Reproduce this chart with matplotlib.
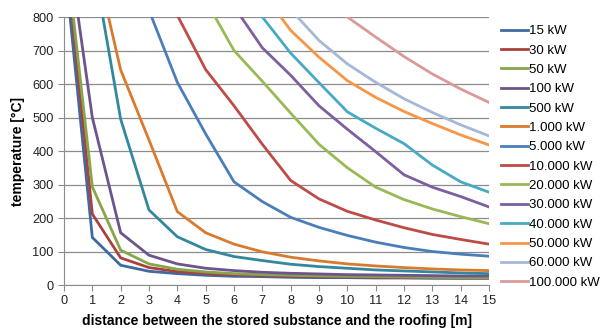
import matplotlib.pyplot as plt
import numpy as np

plt.rcParams['font.family'] = ['Liberation Sans', 'DejaVu Sans']

distance = list(range(0, 16))

# temperature [°C] per heat release rate (values above 800 are off-scale guesses)
labels = ['15 kW', '30 kW', '50 kW', '100 kW', '500 kW', '1.000 kW', '5.000 kW',
          '10.000 kW', '20.000 kW', '30.000 kW', '40.000 kW', '50.000 kW',
          '60.000 kW', '100.000 kW']

t_15 = [980, 142, 59, 41, 34, 29, 26, 25, 23, 22, 22, 21, 21, 20, 20, 20]
t_30 = [1040, 212, 81, 52, 40, 34, 30, 28, 26, 25, 24, 23, 22, 22, 21, 21]
t_50 = [1050, 293, 104, 63, 47, 39, 34, 31, 29, 27, 26, 25, 24, 23, 22, 22]
t_100 = [1100, 500, 156, 89, 63, 50, 43, 38, 35, 33, 31, 30, 29, 28, 27, 27]
t_500 = [2400, 980, 495, 224, 144, 106, 85, 73, 62, 55, 50, 45, 42, 39, 36, 34]
t_1000 = [3000, 1010, 642, 433, 219, 156, 122, 99, 83, 72, 63, 57, 52, 48, 45, 43]
t_5000 = [4000, 2000, 1100, 820, 605, 451, 308, 249, 202, 172, 148, 128, 112, 100, 92, 86]
t_10000 = [5000, 3000, 1500, 1000, 805, 643, 535, 420, 312, 257, 220, 194, 171, 151, 136, 122]
t_20000 = [6000, 4000, 2500, 1500, 1050, 850, 700, 608, 513, 420, 350, 292, 255, 227, 204, 183]
t_30000 = [7000, 5000, 3000, 2000, 1300, 1000, 831, 708, 626, 535, 465, 398, 329, 292, 264, 233]
t_40000 = [8000, 6000, 3500, 2200, 1500, 1100, 900, 800, 692, 604, 517, 468, 422, 358, 308, 277]
t_50000 = [9000, 6500, 4000, 2500, 1700, 1200, 1000, 874, 760, 680, 610, 560, 518, 482, 448, 418]
t_60000 = [9500, 7000, 4500, 2800, 1900, 1300, 1050, 920, 822, 730, 660, 605, 556, 515, 478, 445]
t_100000 = [10000, 8000, 5000, 3500, 2500, 1700, 1300, 1050, 950, 870, 800, 740, 682, 630, 585, 545]

series = [t_15, t_30, t_50, t_100, t_500, t_1000, t_5000, t_10000, t_20000,
          t_30000, t_40000, t_50000, t_60000, t_100000]
colors = ['#3E69A3', '#A9423F', '#87A54B', '#6C548E', '#33889E', '#D97B2E',
          '#4A7EBB', '#BE4B48', '#98B954', '#7D5FA0', '#46AAC5', '#F79646',
          '#A5B8D8', '#D99A98']

fig = plt.figure(figsize=(6.06, 3.29), dpi=100)
ax = fig.add_axes([0.1056, 0.1337, 0.7014, 0.8146])

for vals, lab, col in zip(series, labels, colors):
    ax.plot(distance, vals, color=col, lw=2.0, label=lab, solid_joinstyle='miter')

ax.set_xlim(0, 15)
ax.set_ylim(0, 800)
ax.set_xticks(range(0, 16))
ax.set_yticks(range(0, 801, 100))
ax.yaxis.grid(True, color='#8c8c8c', lw=0.9)
ax.set_axisbelow(True)
for s in ['top', 'right']:
    ax.spines[s].set_visible(False)
for s in ['left', 'bottom']:
    ax.spines[s].set_color('#8c8c8c')
ax.tick_params(axis='both', colors='#8c8c8c', labelcolor='#222222', labelsize=9.2, length=4)

ax.set_xlabel('distance between the stored substance and the roofing [m]', fontsize=10,
              fontweight='bold', labelpad=5)
ax.set_ylabel('temperature [°C]', fontsize=10, fontweight='bold', labelpad=5)

ax.legend(loc='upper left', bbox_to_anchor=(1.01, 1.0), frameon=False, fontsize=9.5,
          handlelength=2.0, handletextpad=0.1, labelspacing=0.54, borderaxespad=0.2)

fig.savefig('out.png', dpi=100)
